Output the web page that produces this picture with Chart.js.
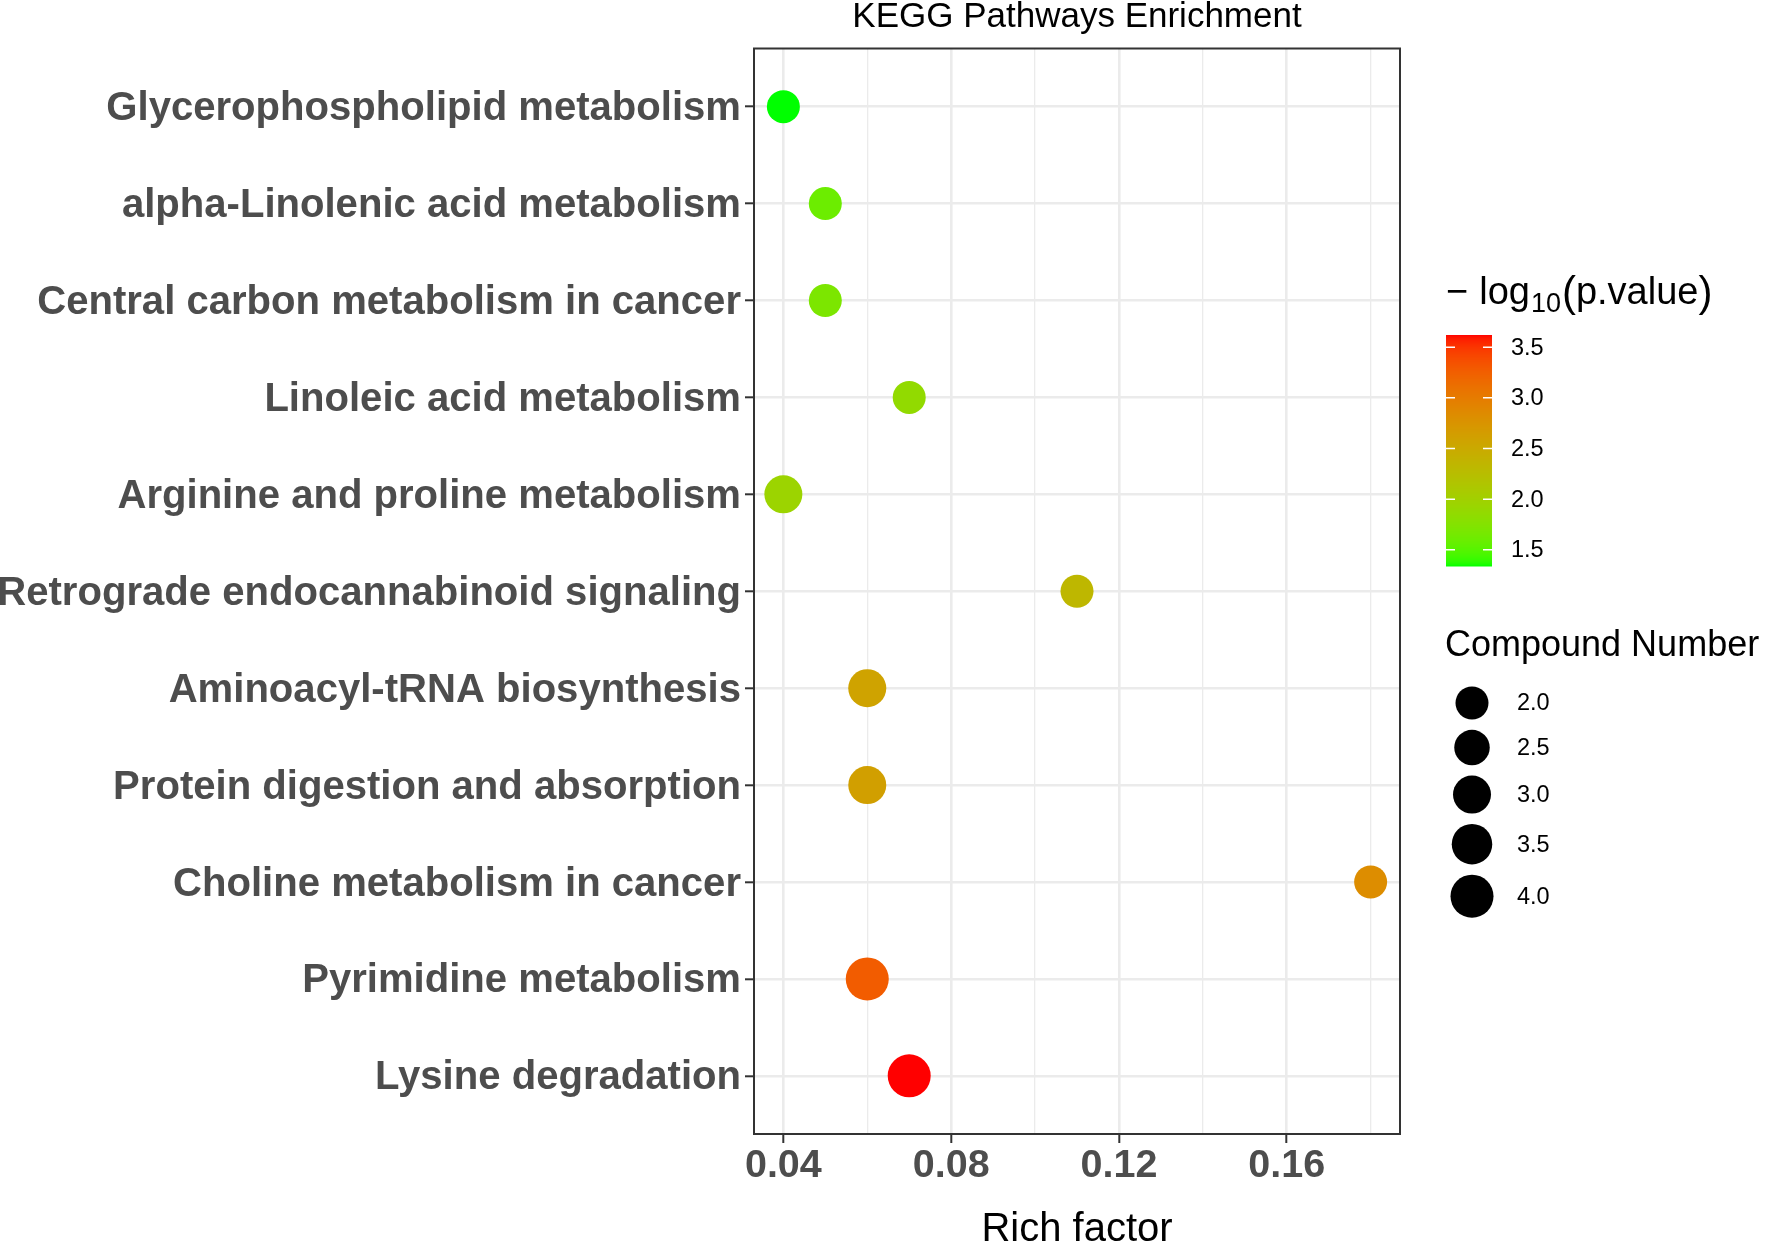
<!DOCTYPE html>
<html>
<head>
<meta charset="utf-8">
<title>KEGG Pathways Enrichment</title>
<script src="https://cdn.jsdelivr.net/npm/chart.js@4.4.1/dist/chart.umd.min.js"></script>
<style>
  html, body { margin: 0; padding: 0; background: #fff; }
  #chart { display: block; }
</style>
</head>
<body>
<canvas id="chart" width="1770" height="1244"></canvas>
<script>
// pathways, top to bottom
const pathways = [
  'Glycerophospholipid metabolism',
  'alpha-Linolenic acid metabolism',
  'Central carbon metabolism in cancer',
  'Linoleic acid metabolism',
  'Arginine and proline metabolism',
  'Retrograde endocannabinoid signaling',
  'Aminoacyl-tRNA biosynthesis',
  'Protein digestion and absorption',
  'Choline metabolism in cancer',
  'Pyrimidine metabolism',
  'Lysine degradation'
];
const richFactor = [0.04, 0.05, 0.05, 0.07, 0.04, 0.11, 0.06, 0.06, 0.18, 0.06, 0.07];
const negLog10P = [1.34, 1.6, 1.7, 1.86, 1.95, 2.33, 2.58, 2.62, 2.82, 3.27, 3.62];
const compoundNumber = [2, 2, 2, 2, 3, 2, 3, 3, 2, 4, 4];

const colorTicks = [1.5, 2.0, 2.5, 3.0, 3.5];
const sizeTicks = [2.0, 2.5, 3.0, 3.5, 4.0];

const FONT = '"Liberation Sans", Arial, Helvetica, sans-serif';

// ggplot style gradient, interpolated in CIELAB
const LOW = [0, 255, 0];
const HIGH = [255, 0, 0];

function toLab(rgb) {
  const lin = rgb.map(c => { c /= 255; return c <= 0.04045 ? c / 12.92 : Math.pow((c + 0.055) / 1.055, 2.4); });
  const X = (0.4124564 * lin[0] + 0.3575761 * lin[1] + 0.1804375 * lin[2]) / 0.95047;
  const Y = 0.2126729 * lin[0] + 0.7151522 * lin[1] + 0.0721750 * lin[2];
  const Z = (0.0193339 * lin[0] + 0.1191920 * lin[1] + 0.9503041 * lin[2]) / 1.08883;
  const f = t => t > 0.008856 ? Math.cbrt(t) : t / (3 * 0.0428) + 4 / 29;
  return [116 * f(Y) - 16, 500 * (f(X) - f(Y)), 200 * (f(Y) - f(Z))];
}

function fromLab(lab) {
  const fy = (lab[0] + 16) / 116, fx = fy + lab[1] / 500, fz = fy - lab[2] / 200;
  const inv = t => t > 6 / 29 ? t * t * t : 3 * 0.0428 * (t - 4 / 29);
  const X = inv(fx) * 0.95047, Y = inv(fy), Z = inv(fz) * 1.08883;
  const r = 3.2404542 * X - 1.5371385 * Y - 0.4985314 * Z;
  const g = -0.9692660 * X + 1.8760108 * Y + 0.0415560 * Z;
  const b = 0.0556434 * X - 0.2040259 * Y + 1.0572252 * Z;
  const gam = c => {
    c = c <= 0.0031308 ? 12.92 * c : 1.055 * Math.pow(c, 1 / 2.4) - 0.055;
    return Math.round(Math.min(1, Math.max(0, c)) * 255);
  };
  return `rgb(${gam(r)},${gam(g)},${gam(b)})`;
}

const labLow = toLab(LOW), labHigh = toLab(HIGH);
const pMin = Math.min(...negLog10P), pMax = Math.max(...negLog10P);

function colorFor(v) {
  const t = Math.min(1, Math.max(0, (v - pMin) / (pMax - pMin)));
  return fromLab(labLow.map((c, i) => c + (labHigh[i] - c) * t));
}

function diameter(n) {
  return 33 + 5 * (n - 2);
}

function isMajor(v) {
  return Math.round(v * 100) % 4 === 0;
}

// panel border plus the two legends on the right
const panelAndLegends = {
  id: 'panelAndLegends',
  afterDraw(chart) {
    const { ctx, chartArea: a } = chart;
    ctx.save();
    ctx.strokeStyle = '#333';
    ctx.lineWidth = 2;
    ctx.strokeRect(a.left, a.top, a.right - a.left, a.bottom - a.top);

    const lx = a.right + 46;

    // legend title: - log10(p.value)
    ctx.fillStyle = '#000';
    ctx.textBaseline = 'alphabetic';
    ctx.textAlign = 'left';
    let x = lx;
    ctx.font = `38px ${FONT}`;
    ctx.fillText('\u2212', x, 304);
    x += ctx.measureText('\u2212').width + 11;
    ctx.fillText('log', x, 304);
    x += ctx.measureText('log').width + 1;
    ctx.font = `27px ${FONT}`;
    ctx.fillText('10', x, 312);
    x += ctx.measureText('10').width + 1;
    ctx.font = `42px ${FONT}`;
    ctx.fillText('(', x, 306);
    x += ctx.measureText('(').width;
    ctx.font = `38px ${FONT}`;
    ctx.fillText('p.value', x, 304);
    x += ctx.measureText('p.value').width;
    ctx.font = `42px ${FONT}`;
    ctx.fillText(')', x, 306);

    // colour bar
    const bx = lx, bw = 46, bTop = 335, bBot = 566;
    for (let y = bTop; y < bBot; y++) {
      const v = pMin + (bBot - y - 0.5) / (bBot - bTop) * (pMax - pMin);
      ctx.fillStyle = colorFor(v);
      ctx.fillRect(bx, y, bw, 1.5);
    }
    ctx.strokeStyle = '#fff';
    ctx.lineWidth = 1.5;
    ctx.font = `23.5px ${FONT}`;
    ctx.textBaseline = 'middle';
    colorTicks.forEach(v => {
      const ty = bBot - (v - pMin) / (pMax - pMin) * (bBot - bTop);
      ctx.beginPath();
      ctx.moveTo(bx, ty); ctx.lineTo(bx + 9, ty);
      ctx.moveTo(bx + bw - 9, ty); ctx.lineTo(bx + bw, ty);
      ctx.stroke();
      ctx.fillStyle = '#000';
      ctx.fillText(v.toFixed(1), bx + 65, ty + 1);
    });

    // size legend
    ctx.textBaseline = 'alphabetic';
    ctx.font = `36px ${FONT}`;
    ctx.fillText('Compound Number', lx - 1, 656);
    ctx.font = `23.5px ${FONT}`;
    ctx.textBaseline = 'middle';
    let cy = 703, prev = null;
    sizeTicks.forEach(v => {
      const d = diameter(v);
      if (prev !== null) cy += (prev + d) / 2 + 10.3;
      prev = d;
      ctx.fillStyle = '#000';
      ctx.beginPath();
      ctx.arc(lx + 26, cy, d / 2, 0, Math.PI * 2);
      ctx.fill();
      ctx.fillText(v.toFixed(1), lx + 71, cy + 1);
    });
    ctx.restore();
  }
};

const ctx = document.getElementById('chart').getContext('2d');

new Chart(ctx, {
  type: 'scatter',
  data: {
    datasets: [{
      data: pathways.map((p, i) => ({ x: richFactor[i], y: i })),
      pointRadius: c => diameter(compoundNumber[c.dataIndex]) / 2,
      pointHoverRadius: c => diameter(compoundNumber[c.dataIndex]) / 2,
      backgroundColor: c => colorFor(negLog10P[c.dataIndex]),
      borderWidth: 0
    }]
  },
  options: {
    responsive: false,
    animation: false,
    devicePixelRatio: 1,
    layout: { padding: { left: 0, right: 370, top: 0, bottom: 0 } },
    plugins: {
      legend: { display: false },
      tooltip: { enabled: false },
      title: {
        display: true,
        text: 'KEGG Pathways Enrichment',
        fullSize: false,
        color: '#000',
        font: { family: FONT, size: 35, weight: 'normal', lineHeight: 1 },
        padding: { top: 0, bottom: 13.5 }
      }
    },
    scales: {
      x: {
        type: 'linear',
        min: 0.033,
        max: 0.187,
        afterFit: s => { s.height = 110; },
        ticks: {
          stepSize: 0.02,
          includeBounds: false,
          autoSkip: false,
          maxRotation: 0,
          padding: 3,
          color: '#4d4d4d',
          font: { family: FONT, size: 39.5, weight: 'bold', lineHeight: 1 },
          callback: v => isMajor(v) ? v.toFixed(2) : ''
        },
        grid: {
          color: '#ebebeb',
          lineWidth: c => (c.tick && isMajor(c.tick.value)) ? 2.6 : 1.3,
          tickLength: 9,
          tickWidth: 2,
          tickColor: c => (c.tick && isMajor(c.tick.value)) ? '#333' : 'rgba(0,0,0,0)'
        },
        border: { display: false },
        title: {
          display: true,
          text: 'Rich factor',
          color: '#000',
          font: { family: FONT, size: 40, lineHeight: 1 },
          padding: { top: 0, bottom: -6 }
        }
      },
      y: {
        type: 'linear',
        reverse: true,
        min: -0.6,
        max: 10.6,
        afterFit: s => { s.width = 754; },
        ticks: {
          stepSize: 1,
          includeBounds: false,
          autoSkip: false,
          padding: 4,
          labelOffset: 2.5,
          color: '#4d4d4d',
          font: { family: FONT, size: 40.1, weight: 'bold', lineHeight: 1 },
          callback: v => pathways[v] ?? ''
        },
        grid: {
          color: '#ebebeb',
          lineWidth: 2.6,
          tickLength: 9,
          tickWidth: 2,
          tickColor: '#333'
        },
        border: { display: false }
      }
    }
  },
  plugins: [panelAndLegends]
});
</script>
</body>
</html>
